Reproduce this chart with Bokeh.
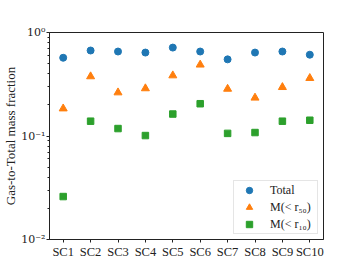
from bokeh.plotting import figure
from bokeh.models import FactorRange, FixedTicker, Legend, LegendItem
from bokeh.embed import file_html
from bokeh.resources import INLINE

clusters = ["SC1", "SC2", "SC3", "SC4", "SC5", "SC6", "SC7", "SC8", "SC9", "SC10"]
total = [0.57, 0.67, 0.655, 0.64, 0.715, 0.655, 0.55, 0.64, 0.655, 0.61]
r50 = [0.184, 0.376, 0.263, 0.288, 0.384, 0.488, 0.285, 0.234, 0.296, 0.362]
r10 = [0.026, 0.139, 0.118, 0.101, 0.163, 0.205, 0.106, 0.108, 0.139, 0.142]
ytick_vals = [0.01, 0.1, 1.0]
ytick_labels = ["10⁻²", "10⁻¹", "10⁰"]
series_labels = ["Total", "M(< r₅₀)", "M(< r₁₀)"]

FONT = "Liberation Serif"

p = figure(width=351, height=261, x_range=FactorRange(*clusters),
           y_range=(0.01, 1.0), y_axis_type="log",
           output_backend="svg", toolbar_location=None,
           min_border_left=44, min_border_right=28,
           min_border_top=32, min_border_bottom=22)

minor = [m * d for d in (0.01, 0.1) for m in range(2, 10)]
p.yaxis.ticker = FixedTicker(ticks=ytick_vals, minor_ticks=minor)
p.yaxis.major_label_overrides = {v: l for v, l in zip(ytick_vals, ytick_labels)}

r1 = p.scatter(clusters, total, marker="circle", size=7, color="#1f77b4")
r2 = p.scatter(clusters, r50, marker="triangle", size=8, color="#ff7f0e")
r3 = p.scatter(clusters, r10, marker="square", size=6.5, color="#2ca02c")

p.xgrid.visible = False
p.ygrid.visible = False
p.outline_line_color = "#222222"
p.outline_line_width = 1

for ax in (p.xaxis, p.yaxis):
    ax.axis_line_color = "#222222"
    ax.major_tick_line_color = "#222222"
    ax.minor_tick_line_color = "#222222"
    ax.major_tick_in = 0
    ax.major_tick_out = 3
    ax.minor_tick_in = 0
    ax.minor_tick_out = 2
    ax.major_label_text_font = FONT
    ax.major_label_text_font_size = "12.5px"
    ax.major_label_text_color = "#222222"
    ax.axis_label_text_font = FONT
    ax.axis_label_text_font_style = "normal"
    ax.axis_label_text_font_size = "13px"
    ax.axis_label_text_color = "#222222"
    ax.major_label_standoff = 2

p.yaxis.major_label_text_font = "DejaVu Serif"
p.yaxis.major_label_text_font_size = "11px"
p.yaxis.major_label_standoff = 1
p.yaxis.axis_label = "Gas-to-Total mass fraction"
p.yaxis.axis_label_standoff = 0

legend = Legend(items=[LegendItem(label=series_labels[0], renderers=[r1]),
                       LegendItem(label=series_labels[1], renderers=[r2]),
                       LegendItem(label=series_labels[2], renderers=[r3])],
                location="bottom_right")
legend.label_text_font = FONT
legend.label_text_font_size = "12px"
legend.label_text_color = "#222222"
legend.border_line_color = "#cccccc"
legend.margin = 5
legend.padding = 1
legend.spacing = 1
legend.label_height = 16
legend.glyph_height = 16
legend.glyph_width = 28
legend.label_width = 46
legend.label_standoff = 7
p.add_layout(legend)

open("out.html", "w").write(file_html(p, INLINE))
